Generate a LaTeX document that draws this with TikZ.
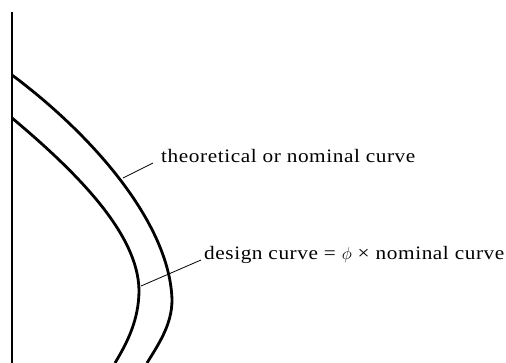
\documentclass[tikz,border=0pt]{standalone}
\usepackage{fontspec}
\setmainfont{Liberation Serif}[FakeStretch=1.12, LetterSpace=3]
\usetikzlibrary{calc}

\begin{document}
\begin{tikzpicture}[x=1pt, y=-1pt,
    curve/.style={line width=2.8pt},
    leader/.style={line width=0.8pt},
    lbl/.style={anchor=base west, inner sep=0pt, font=\fontsize{19}{22}\selectfont}]
    \useasboundingbox (0,0) rectangle (506,363);

    \coordinate (Top) at (12,12);
    \coordinate (Bot) at (12,363);
    \coordinate (N0) at (12,75);
    \coordinate (N1) at (172,300);
    \coordinate (N2) at (147,363);
    \coordinate (D0) at (12,118);
    \coordinate (D1) at (139,290);
    \coordinate (D2) at (115,363);
    \coordinate (Tn) at (123,178);
    \coordinate (Td) at (141,286);

    \draw[line width=1.8pt] (Top) -- (Bot);
    \draw[curve] (N0) .. controls (95,137) and (170,225) .. (N1)
        .. controls (172,325) and (158,345) .. (N2);
    \draw[curve] (D0) .. controls (80,175) and (138,235) .. (D1)
        .. controls (139,320) and (127,343) .. (D2);

    \node[lbl] (nom) at (161,163) {theoretical or nominal curve};
    \node[lbl] (des) at (204,260) {design curve = $\phi$ ×\hspace{6pt}nominal curve};

    \draw[leader] (Tn) -- ($(nom.base west)+(-8,0)$);
    \draw[leader] (Td) -- ($(des.base west)+(-3,0)$);
\end{tikzpicture}
\end{document}
